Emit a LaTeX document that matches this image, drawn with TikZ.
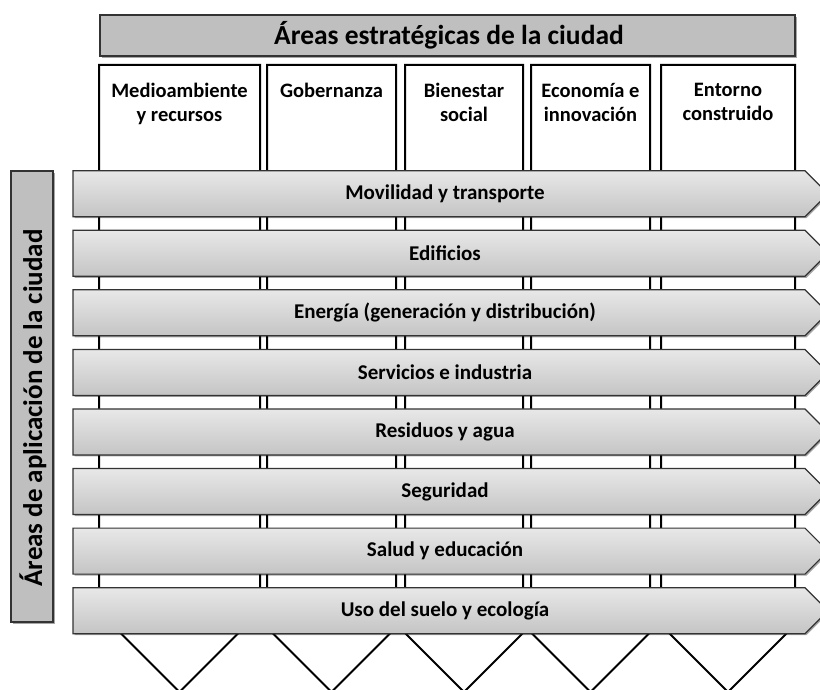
\documentclass[tikz,border=0pt]{standalone}
\usepackage{fontspec}
\setmainfont{Carlito}
\usetikzlibrary{shadows}
\tikzset{
  colbox/.style={draw=black, line width=2pt, fill=white, line join=miter},
  coltext/.style={font=\bfseries\fontsize{20.5}{24}\selectfont, align=center, inner sep=0pt},
  rowbox/.style={draw=black!80, line width=1.2pt, top color=black!9, bottom color=black!23,
     drop shadow={shadow xshift=1.5pt, shadow yshift=-1.5pt, opacity=0.35, fill=black}},
  rowtext/.style={font=\bfseries\fontsize{21}{24}\selectfont},
  graybox/.style={draw=black!80, line width=1.2pt, fill=black!25,
     drop shadow={shadow xshift=2pt, shadow yshift=-2pt, opacity=0.35, fill=black}},
}
\begin{document}
\begin{tikzpicture}[x=1pt,y=-1pt]
\useasboundingbox (0,0) rectangle (820,690);
\clip (0,0) rectangle (820,690);
% header
\draw[graybox] (100,15) rectangle (795,56);
\node[font=\bfseries\fontsize{27.5}{30}\selectfont] (head) at (449,35) {Áreas estratégicas de la ciudad};
% columns
\foreach \n/\l/\r/\t in {c1/99/260/{Medioambiente\\y recursos}, c2/267/396/{Gobernanza}, c3/405/523/{Bienestar\\social}, c4/531/650/{Economía e\\innovación}, c5/661/795/{Entorno\\construido}}{
  \pgfmathsetmacro\c{(\l+\r)/2}
  \pgfmathsetmacro\h{(\r-\l)/2}
  \draw[colbox] (\l,65) -- (\r,65) -- (\r,{692-\h}) -- (\c,692) -- (\l,{692-\h}) -- cycle;
  \node[coltext, anchor=north] (\n) at (\c,83) {\t};
}
% left bar
\draw[graybox] (11,171) rectangle (53,622);
\node[rotate=90, font=\bfseries\fontsize{27}{30}\selectfont] (side) at (33,408) {Áreas de aplicación de la ciudad};
% rows
\foreach \i/\t in {0/Movilidad y transporte, 1/Edificios, 2/Energía (generación y distribución), 3/Servicios e industria, 4/Residuos y agua, 5/Seguridad, 6/Salud y educación, 7/Uso del suelo y ecología}{
  \pgfmathsetmacro\tp{170.7+59.57*\i}
  \draw[rowbox] (73,\tp) -- (805,\tp) -- (828,{\tp+23}) -- (805,{\tp+46}) -- (73,{\tp+46}) -- cycle;
  \node[rowtext] (r\i) at (445,{\tp+23}) {\t};
}
\end{tikzpicture}
\end{document}
